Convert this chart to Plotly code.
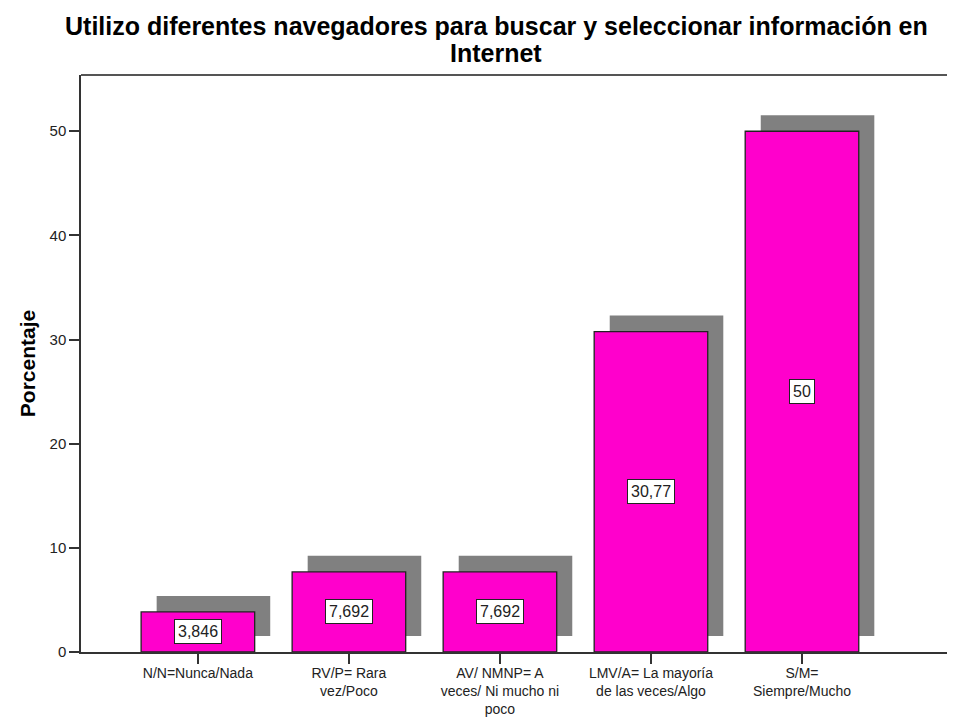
import plotly.graph_objects as go

categories = [
    "N/N=Nunca/Nada",
    "RV/P= Rara<br>vez/Poco",
    "AV/ NMNP= A<br>veces/ Ni mucho ni<br>poco",
    "LMV/A= La mayoría<br>de las veces/Algo",
    "S/M=<br>Siempre/Mucho",
]
values = [3.846, 7.692, 7.692, 30.77, 50.0]
value_labels = ["3,846", "7,692", "7,692", "30,77", "50"]
y_ticks = [0, 10, 20, 30, 40, 50]
title_lines = ["Utilizo diferentes navegadores para buscar y seleccionar información en", "Internet"]

FONT = "Liberation Sans, Arial, sans-serif"
idx = list(range(len(categories)))
BAR_W = 0.752
SHADOW_DX = 0.103
SHADOW_LIFT = 1.54

fig = go.Figure()

# shadow bars
fig.add_trace(go.Bar(
    x=idx, y=values, base=[SHADOW_LIFT] * len(values),
    width=BAR_W, offset=-BAR_W / 2 + SHADOW_DX,
    marker=dict(color="#808080", line=dict(width=0)),
    hoverinfo="skip", showlegend=False,
))
# main bars
fig.add_trace(go.Bar(
    x=idx, y=values,
    width=BAR_W, offset=-BAR_W / 2,
    marker=dict(color="#FF00CC", line=dict(color="#222222", width=1.3)),
    showlegend=False,
))

for i, (v, t) in enumerate(zip(values, value_labels)):
    fig.add_annotation(
        x=i, y=v / 2, text=t, showarrow=False,
        font=dict(family=FONT, size=16, color="#222222"),
        bgcolor="white", bordercolor="#222222", borderwidth=1, borderpad=3,
    )

# two-line title (tight line spacing as in the reference)
fig.add_annotation(
    xref="paper", yref="paper", x=0.476, y=1, xanchor="center", yanchor="middle",
    yshift=67 - 18, text="<b>" + title_lines[0] + "</b>", showarrow=False,
    font=dict(family=FONT, size=25, color="black"),
)
fig.add_annotation(
    xref="paper", yref="paper", x=0.476, y=1, xanchor="center", yanchor="middle",
    yshift=67 - 45, text="<b>" + title_lines[1] + "</b>", showarrow=False,
    font=dict(family=FONT, size=25, color="black"),
)

fig.update_layout(
    width=947, height=710,
    paper_bgcolor="white", plot_bgcolor="white",
    barmode="overlay",
    margin=dict(l=73, r=2, t=67, b=66, autoexpand=False),
    xaxis=dict(
        range=[-0.774, 5.0], automargin=False,
        tickmode="array", tickvals=idx, ticktext=categories,
        ticks="outside", ticklen=10, tickwidth=1.5, tickcolor="#333333",
        ticklabelstandoff=-3,
        showline=True, linecolor="#333333", linewidth=1.5,
        showgrid=False, zeroline=False,
        tickfont=dict(family=FONT, size=14, color="#222222"),
    ),
    yaxis=dict(
        range=[0, 55.4], automargin=False,
        tickmode="array", tickvals=y_ticks,
        ticks="outside", ticklen=10, tickwidth=1.5, tickcolor="#333333",
        showline=True, linecolor="#333333", linewidth=1.5,
        showgrid=False, zeroline=False,
        tickfont=dict(family=FONT, size=15, color="#222222"),
        title=dict(text="<b>Porcentaje</b>", standoff=8,
                   font=dict(family=FONT, size=21, color="black")),
    ),
    shapes=[dict(type="line", xref="paper", yref="paper", x0=0, x1=1.02, y0=1, y1=1,
                 line=dict(color="#555555", width=2))],
)

fig.write_html("out.html")
